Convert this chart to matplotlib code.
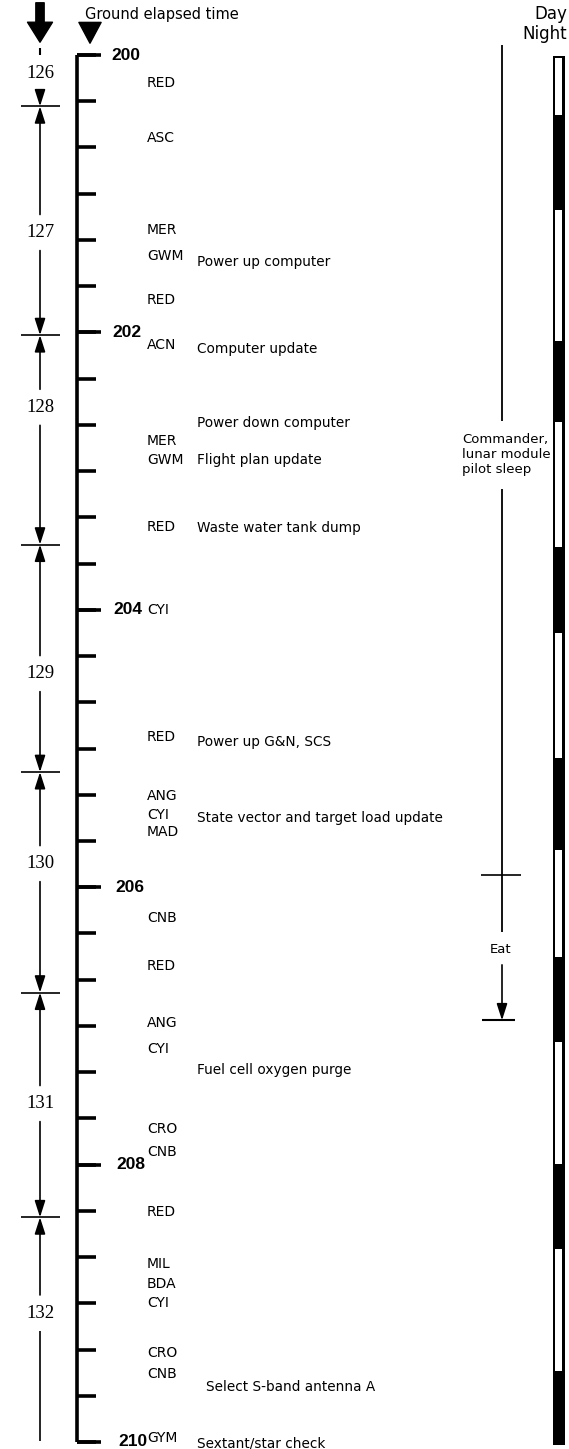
import numpy as np
import matplotlib.pyplot as plt

# ground elapsed time scale (hours)
hour_labels = [200, 202, 204, 206, 208, 210]
tick_minutes = 20

# revolutions: number, boundaries and where the number sits (GET hours)
revs = [126, 127, 128, 129, 130, 131, 132]
rev_bounds = [199.93, 200.37, 202.02, 203.53, 205.17, 206.76, 208.38, 209.99]
rev_label_at = [200.13, 201.28, 202.54, 204.46, 205.83, 207.56, 209.07]

# tracking stations
stations = ["RED", "ASC", "MER", "GWM", "RED", "ACN", "MER", "GWM", "RED", "CYI",
            "RED", "ANG", "CYI", "MAD", "CNB", "RED", "ANG", "CYI", "CRO", "CNB",
            "RED", "MIL", "BDA", "CYI", "CRO", "CNB", "GYM"]
station_get = [200.20, 200.60, 201.26, 201.45, 201.77, 202.09, 202.78, 202.92, 203.40, 204.00,
               204.92, 205.34, 205.48, 205.60, 206.22, 206.57, 206.98, 207.17, 207.74, 207.91,
               208.34, 208.72, 208.86, 209.00, 209.36, 209.51, 209.97]

# events
events = ["Power up computer", "Computer update", "Power down computer",
          "Flight plan update", "Waste water tank dump", "Power up G&N, SCS",
          "State vector and target load update", "Fuel cell oxygen purge",
          "Select S-band antenna A", "Sextant/star check"]
event_get = [201.49, 202.12, 202.65, 202.92, 203.41, 204.95, 205.50, 207.32, 209.60, 210.01]

# crew activities
crew = ["Commander,\nlunar module\npilot sleep", "Eat"]
crew_start = [199.93, 205.91]
crew_end = [205.91, 206.96]
crew_label_at = [202.88, 206.45]

# day / night
bar_start, bar_end = 200.01, 210.02
night_start = [200.45, 202.08, 203.56, 205.08, 206.52, 208.01, 209.50]
night_end = [201.10, 202.63, 204.15, 205.72, 207.10, 208.59, 210.02]

PXH = 138.7  # pixels per hour
y_top = 200 - 55 / PXH
y_bot = 200 + (1449 - 55) / PXH

fig = plt.figure(figsize=(5.69, 14.49), dpi=100)
ax = fig.add_axes([0, 0, 1, 1])
ax.set_xlim(0, 569)
ax.set_ylim(y_bot, y_top)
ax.axis("off")

txt = dict(family="DejaVu Sans", color="black")
num = dict(family="Liberation Sans", color="black")

# main time axis
ax.vlines(77, 200, 210, color="k", lw=2.6)
ticks = np.arange(200, 210.001, tick_minutes / 60)
ax.hlines(ticks, 77, 96, color="k", lw=2.6)
ax.hlines(hour_labels, 77, 101, color="k", lw=2.6)
for h in hour_labels:
    ax.text(111 + (h - 200) * 0.7, h, str(h), va="center", ha="left",
            fontsize=12.5, fontweight="bold", **num)

ax.text(85, 14 / PXH + y_top, "Ground elapsed time", va="center", ha="left",
        fontsize=10.5, **txt)

# big arrows at the top
ax.annotate("", xy=(40, y_top + 45 / PXH), xytext=(40, y_top),
            arrowprops=dict(arrowstyle="simple,head_length=0.72,head_width=0.9,tail_width=0.3",
                            fc="k", ec="k", mutation_scale=20))
ax.annotate("", xy=(90, y_top + 46 / PXH), xytext=(90, y_top + 22 / PXH),
            arrowprops=dict(arrowstyle="simple,head_length=0.75,head_width=0.8,tail_width=0.3",
                            fc="k", ec="k", mutation_scale=20))

# revolution dimension lines
head = dict(arrowstyle="-|>,head_length=0.5,head_width=0.16", color="k", lw=1.2,
            mutation_scale=20, shrinkA=0, shrinkB=0)
gap = 0.13
for i, r in enumerate(revs):
    a, b, m = rev_bounds[i], rev_bounds[i + 1], rev_label_at[i]
    ax.text(40, m, str(r), va="center", ha="center", fontsize=13.5,
            family="Liberation Serif", color="black")
    if i == 0:
        ax.vlines(40, a + 0.02, a + 0.07, color="k", lw=1.5)
    else:
        ax.annotate("", xy=(40, a), xytext=(40, m - gap), arrowprops=head)
    if i == len(revs) - 1:
        ax.vlines(40, m + gap, b, color="k", lw=1.2)
    else:
        ax.annotate("", xy=(40, b), xytext=(40, m + gap), arrowprops=head)
ax.hlines(rev_bounds[1:-1], 21, 60, color="k", lw=1.2)

# stations and events
for s, t in zip(stations, station_get):
    ax.text(147, t, s, va="center", ha="left", fontsize=10, **txt)
for e, t in zip(events, event_get):
    x = 206 if e.startswith("Select") else 197
    ax.text(x, t, e, va="center", ha="left", fontsize=9.8, **txt)

# crew activity lines
ax.vlines(502, crew_start[0], crew_label_at[0] - 0.24, color="k", lw=1.3)
ax.vlines(502, crew_label_at[0] + 0.25, crew_end[0] + 0.41, color="k", lw=1.3)
ax.hlines(crew_end[0], 481, 521, color="k", lw=1.2)
ax.annotate("", xy=(502, crew_end[1]), xytext=(502, crew_label_at[1] + 0.11),
            arrowprops=head)
ax.hlines(crew_end[1], 482, 515, color="k", lw=1.5)
ax.text(462, crew_label_at[0], crew[0], va="center", ha="left",
        fontsize=9.5, linespacing=1.2, **txt)
ax.text(501, crew_label_at[1], crew[1], va="center", ha="center", fontsize=9.5, **txt)

# day / night bar
ax.text(567, y_top + 14 / PXH, "Day", ha="right", va="center", fontsize=12, **txt)
ax.text(567, y_top + 34 / PXH, "Night", ha="right", va="center", fontsize=12, **txt)
ax.bar(559, bar_end - bar_start, bottom=bar_start, width=12, color="k")
day_start = [bar_start] + night_end[:-1]
day_end = night_start
inset = 0.015
for s, e in zip(day_start, day_end):
    ax.bar(559, e - s - 2 * inset, bottom=s + inset, width=7, color="white")

fig.savefig("out.png", dpi=100)
